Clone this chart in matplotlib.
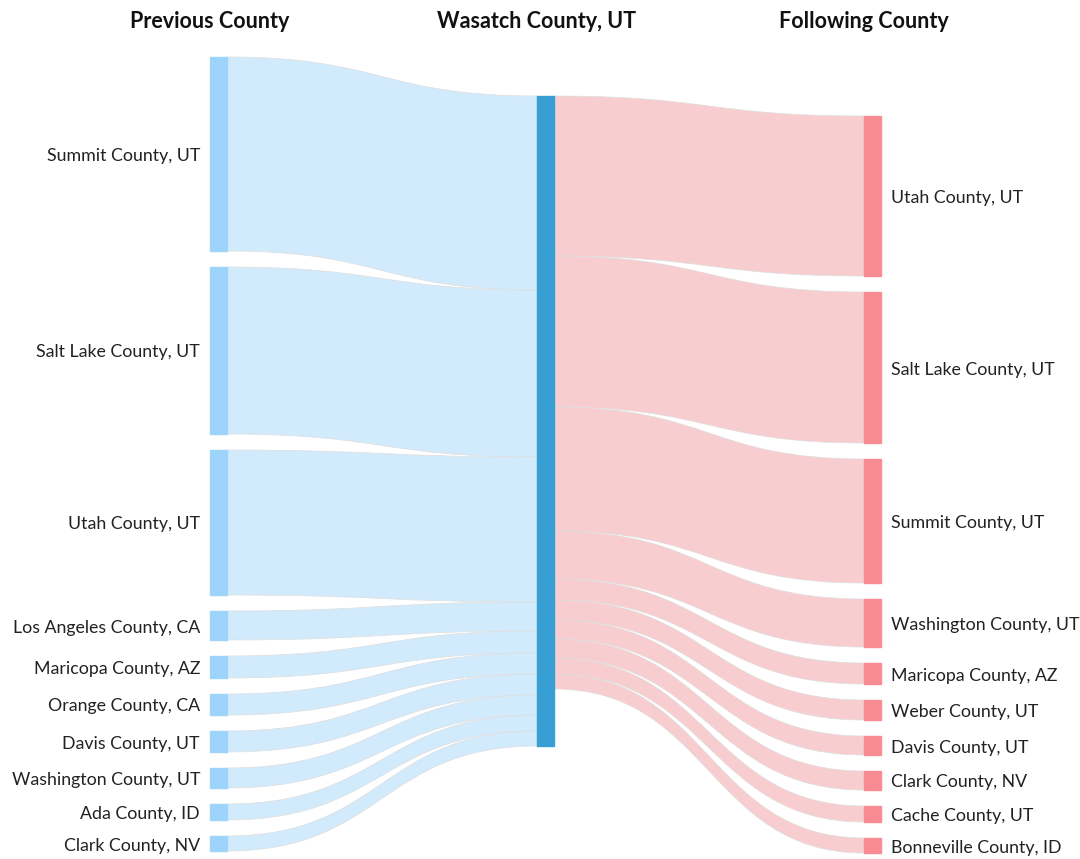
import matplotlib.pyplot as plt
from matplotlib.path import Path
from matplotlib.patches import PathPatch, Rectangle

plt.rcParams['font.family'] = ['Lato', 'DejaVu Sans']

center_name = "Wasatch County, UT"

prev_counties = ["Summit County, UT", "Salt Lake County, UT", "Utah County, UT",
                 "Los Angeles County, CA", "Maricopa County, AZ", "Orange County, CA",
                 "Davis County, UT", "Washington County, UT", "Ada County, ID",
                 "Clark County, NV"]
prev_values = [194, 167, 145, 29, 22, 21, 21, 20, 16, 15]

next_counties = ["Utah County, UT", "Salt Lake County, UT", "Summit County, UT",
                 "Washington County, UT", "Maricopa County, AZ", "Weber County, UT",
                 "Davis County, UT", "Clark County, NV", "Cache County, UT",
                 "Bonneville County, ID"]
next_values = [160, 151, 124, 48, 21, 20, 19, 19, 16, 15]

# layout (pixels)
node_w = 17
gap = 16
x_left, x_mid, x_right = 210, 537, 864
left_top = 57
mid_top = 96
right_bottom = 853

c_left_node = "#9ed4fb"
c_left_link = "#d1eafc"
c_mid_node = "#379fd3"
c_right_node = "#f98b92"
c_right_link = "#f8cdd0"
c_edge = "#dedede"


def band(ax, x0, y0, x1, y1, h, color):
    xm = (x0 + x1) / 2
    verts = [(x0, y0), (xm, y0), (xm, y1), (x1, y1),
             (x1, y1 + h), (xm, y1 + h), (xm, y0 + h), (x0, y0 + h), (x0, y0)]
    codes = [Path.MOVETO, Path.CURVE4, Path.CURVE4, Path.CURVE4,
             Path.LINETO, Path.CURVE4, Path.CURVE4, Path.CURVE4, Path.CLOSEPOLY]
    ax.add_patch(PathPatch(Path(verts, codes), facecolor=color,
                           edgecolor=c_edge, linewidth=0.5, zorder=1))


fig = plt.figure(figsize=(10.8, 8.59), dpi=100)
ax = fig.add_axes([0, 0, 1, 1])
ax.set_xlim(0, 1080)
ax.set_ylim(859, 0)
ax.axis("off")

# left column
y = left_top
y_mid_in = mid_top
for name, v in zip(prev_counties, prev_values):
    band(ax, x_left + node_w, y, x_mid, y_mid_in, v, c_left_link)
    ax.add_patch(Rectangle((x_left, y), node_w, v, color=c_left_node, zorder=2))
    ax.text(x_left - 10, y + v / 2 + 2, name, ha="right", va="center", fontsize=12.8, color="#222222")
    y += v + gap
    y_mid_in += v

# right column (stacked from the bottom)
right_total = sum(next_values) + gap * (len(next_values) - 1)
y = right_bottom - right_total
y_mid_out = mid_top
for name, v in zip(next_counties, next_values):
    band(ax, x_mid + node_w, y_mid_out, x_right, y, v, c_right_link)
    ax.add_patch(Rectangle((x_right, y), node_w, v, color=c_right_node, zorder=2))
    ax.text(x_right + node_w + 10, y + v / 2 + 2, name, ha="left", va="center", fontsize=12.8, color="#222222")
    y += v + gap
    y_mid_out += v

# middle node
mid_h = max(sum(prev_values), sum(next_values))
ax.add_patch(Rectangle((x_mid, mid_top), node_w, mid_h, color=c_mid_node, zorder=2))

# column headers
for x, title in [(x_left, "Previous County"), (x_mid, center_name), (x_right, "Following County")]:
    ax.text(x, 21, title, ha="center", va="center", fontsize=15.5, fontweight="bold", color="#111111")

fig.savefig("out.png", dpi=100)
